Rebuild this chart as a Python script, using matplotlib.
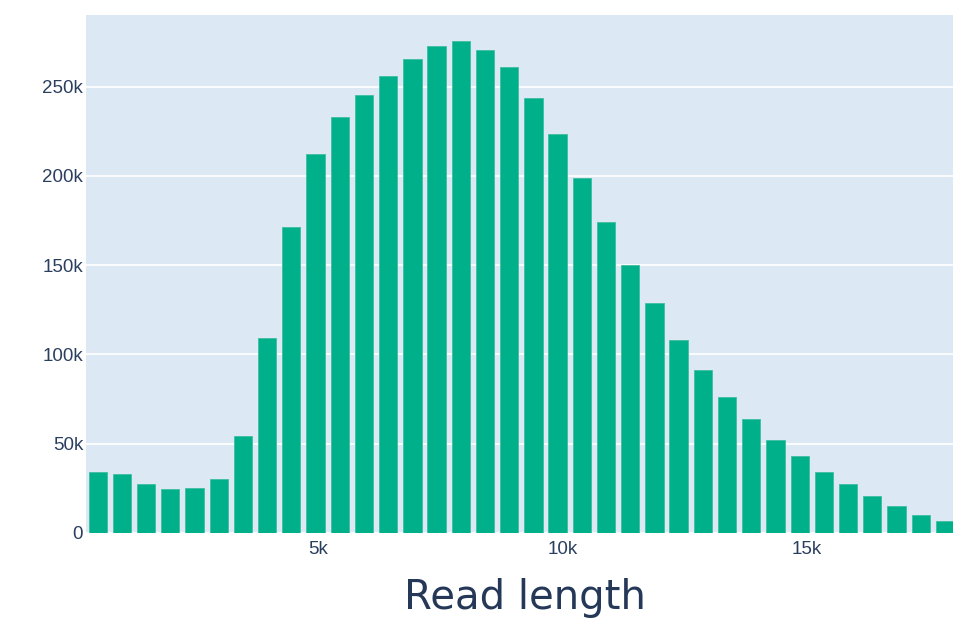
import numpy as np
import matplotlib
matplotlib.use("Agg")
import matplotlib.pyplot as plt

# histogram of read lengths, bins ~495 wide
bin_width = 495
bin_index = np.arange(1, 37)
counts = [34.2, 32.9, 27.1, 24.5, 24.9, 29.9, 54.4, 109.0, 171.4, 212.3,
          233.2, 245.5, 255.8, 265.7, 272.8, 275.6, 270.6, 261.2, 243.8, 223.5,
          199.0, 174.3, 150.1, 128.6, 108.0, 91.4, 76.2, 63.7, 51.8, 43.0,
          34.0, 27.1, 20.7, 15.1, 9.9, 6.7]
counts = np.array(counts) * 1000

y_ticks = [0, 50000, 100000, 150000, 200000, 250000]
y_labels = ["0", "50k", "100k", "150k", "200k", "250k"]
x_ticks = [5000, 10000, 15000]
x_labels = ["5k", "10k", "15k"]

centers = bin_index * bin_width

fig = plt.figure(figsize=(9.54, 6.18), dpi=100)
ax = fig.add_axes([86/954, (618-532.7)/618, 868/954, (532.7-15)/618])
ax.set_facecolor("#DCE8F3")

ax.bar(centers, counts, width=bin_width*0.755, color="#00B08A",
       edgecolor="#3fbf9f", linewidth=0.6, zorder=3)

ax.set_xlim(256, 18006)
ax.set_ylim(0, 290200)
ax.set_yticks(y_ticks)
ax.set_yticklabels(y_labels)
ax.set_xticks(x_ticks)
ax.set_xticklabels(x_labels)
ax.yaxis.grid(True, color="white", linewidth=1.2, zorder=1)
ax.set_axisbelow(True)
for s in ax.spines.values():
    s.set_visible(False)
ax.tick_params(axis="both", length=0, labelsize=13.5, labelcolor="#2a3f5f")
ax.tick_params(axis="y", pad=2)
ax.tick_params(axis="x", pad=6)
for lab in ax.get_xticklabels() + ax.get_yticklabels():
    lab.set_fontfamily("Liberation Sans")

fig.text(525/954, 9/618, "Read length", ha="center", va="baseline",
         fontsize=29, color="#253858", family="DejaVu Sans")

fig.savefig("out.png", dpi=100)
